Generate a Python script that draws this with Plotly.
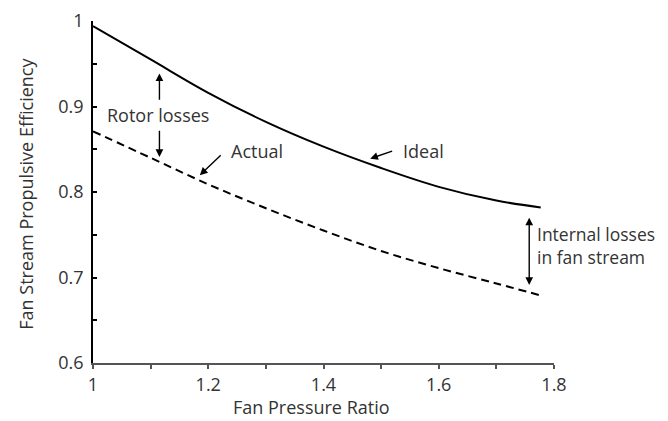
import plotly.graph_objects as go

fpr = [1.0, 1.1, 1.2, 1.3, 1.4, 1.5, 1.6, 1.7, 1.777]
ideal = [0.994, 0.955, 0.916, 0.882, 0.853, 0.828, 0.806, 0.790, 0.782]
actual = [0.871, 0.840, 0.809, 0.781, 0.755, 0.731, 0.711, 0.693, 0.679]

x_ticks = [1.0, 1.2, 1.4, 1.6, 1.8]
x_labels = ["1", "1.2", "1.4", "1.6", "1.8"]
y_ticks = [0.6, 0.7, 0.8, 0.9, 1.0]
y_labels = ["0.6", "0.7", "0.8", "0.9", "1"]

FONT = "Open Sans"
TXT = "#333333"

fig = go.Figure()
fig.add_trace(go.Scatter(x=fpr, y=ideal, mode="lines", line=dict(color="black", width=2, shape="spline"),
                         showlegend=False, hoverinfo="skip"))
fig.add_trace(go.Scatter(x=fpr, y=actual, mode="lines",
                         line=dict(color="black", width=2, shape="spline", dash="8px,5px"),
                         showlegend=False, hoverinfo="skip"))

def arrow(x, y, ax, ay, side="end"):
    fig.add_annotation(x=x, y=y, ax=ax, ay=ay, xref="x", yref="y", axref="x", ayref="y",
                       text="", showarrow=True, arrowhead=2, arrowsize=1.1, arrowwidth=1.4,
                       arrowcolor="black", arrowside=side)

# Rotor losses
arrow(1.1153, 0.9387, 1.1153, 0.906)
arrow(1.1153, 0.8409, 1.1153, 0.8735)
fig.add_annotation(x=1.1123, y=0.8906, xref="x", yref="y", text="Rotor losses", showarrow=False,
                   font=dict(family=FONT, size=18, color=TXT))
# Actual
arrow(1.1854, 0.8197, 1.2243, 0.8447)
fig.add_annotation(x=1.2852, y=0.8485, xref="x", yref="y", text="Actual", showarrow=False,
                   font=dict(family=FONT, size=18, color=TXT))
# Ideal
arrow(1.481, 0.839, 1.5217, 0.8485)
fig.add_annotation(x=1.5736, y=0.8485, xref="x", yref="y", text="Ideal", showarrow=False,
                   font=dict(family=FONT, size=18, color=TXT))
# Internal losses
arrow(1.757, 0.770, 1.757, 0.6894, side="end+start")
fig.add_annotation(x=1.767, y=0.7374, xref="x", yref="y", text="Internal losses<br>in fan stream",
                   showarrow=False, xanchor="left", align="left",
                   font=dict(family=FONT, size=17.5, color=TXT))

# Axis titles
fig.add_annotation(x=0.475, y=0, xref="paper", yref="paper", yshift=-44, yanchor="middle",
                   text="Fan Pressure Ratio", showarrow=False, font=dict(family=FONT, size=18, color=TXT))
fig.add_annotation(x=0, y=0.495, xref="paper", yref="paper", xshift=-67, xanchor="center",
                   text="Fan Stream Propulsive Efficiency", textangle=-90, showarrow=False,
                   font=dict(family=FONT, size=18, color=TXT))

fig.update_xaxes(range=[1.0, 1.8], tickvals=x_ticks, ticktext=x_labels, showgrid=False, zeroline=False,
                 showline=True, linecolor="#555555", linewidth=2, ticks="outside", ticklen=4,
                 tickcolor="#555555", tickwidth=1.5, automargin=False,
                 minor=dict(dtick=0.1, tick0=1.0, ticks="outside", ticklen=4, tickcolor="#555555", tickwidth=1.5),
                 tickfont=dict(family=FONT, size=18, color=TXT))
fig.update_yaxes(range=[0.6, 1.0], tickvals=y_ticks, ticktext=y_labels, showgrid=False, zeroline=False,
                 showline=True, linecolor="black", linewidth=1.5, ticks="inside", ticklen=4,
                 tickcolor="black", tickwidth=1.5, automargin=False, ticklabeloverflow="allow",
                 minor=dict(dtick=0.05, tick0=0.6, ticks="inside", ticklen=4, tickcolor="black", tickwidth=1.5),
                 tickfont=dict(family=FONT, size=18, color=TXT), ticklabelstandoff=4)

# page body has an 8px default margin, so the figure is sized to fill the rest of the window
fig.update_layout(width=660, height=413, margin=dict(l=85, r=114, t=13, b=58),
                  plot_bgcolor="white", paper_bgcolor="white", showlegend=False)

fig.write_html("out.html")
